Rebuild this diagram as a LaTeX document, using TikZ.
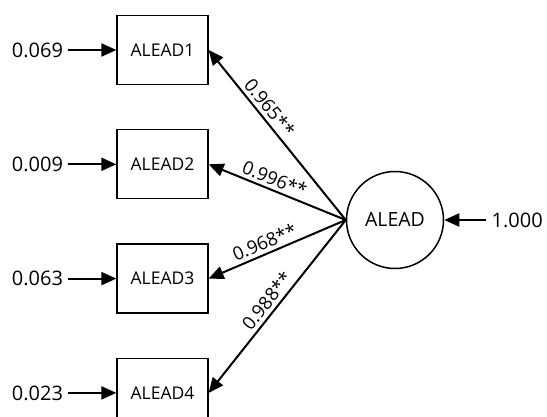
\documentclass[tikz,border=0pt]{standalone}
\usepackage{fontspec}
\setmainfont{Open Sans}
\usetikzlibrary{positioning,arrows.meta}

\begin{document}
\begin{tikzpicture}[
        x=1pt, y=-1pt,
        thick,
        >={Triangle[length=15pt,width=13pt]},
        indbox/.style={draw=black, line width=1.3pt, minimum width=91pt, minimum height=69pt, font=\fontsize{17.5}{20}\selectfont},
        errlab/.style={inner sep=5pt, font=\fontsize{20}{24}\selectfont},
        loadlab/.style={sloped, above, inner sep=3.5pt, font=\fontsize{18.5}{22}\selectfont}]
        \useasboundingbox (0,0) rectangle (547,417);
        % NODES
        % indicator boxes
        \node[indbox] (A1) at (162.5,50) {ALEAD1};
        \node[indbox, below=44pt of A1] (A2) {ALEAD2};
        \node[indbox, below=44pt of A2] (A3) {ALEAD3};
        \node[indbox, below=44pt of A3] (A4) {ALEAD4};
        % latent variable
        \node[draw=black, circle, line width=1.5pt, minimum size=97pt, font=\fontsize{19.5}{22}\selectfont] (LV) at (395,220) {ALEAD};
        % error terms
        \node[errlab, left=48pt of A1] (e1) {0.069};
        \node[errlab, left=48pt of A2] (e2) {0.009};
        \node[errlab, left=48pt of A3] (e3) {0.063};
        \node[errlab, left=48pt of A4] (e4) {0.023};
        \node[errlab, right=42pt of LV] (eLV) {1.000};

        % ARROWS
        \draw[->, line width=2pt] (e1)--(A1);
        \draw[->, line width=2pt] (e2)--(A2);
        \draw[->, line width=2pt] (e3)--(A3);
        \draw[->, line width=2pt] (e4)--(A4);
        \draw[->, line width=2pt] (eLV)--(LV);
        \draw[->, line width=2pt] (LV.west)--(A1.east) node[loadlab, pos=0.62] {0.965**};
        \draw[->, line width=2pt] (LV.west)--(A2.east) node[loadlab, pos=0.55] {0.996**};
        \draw[->, line width=2pt] (LV.west)--(A3.east) node[loadlab, pos=0.56] {0.968**};
        \draw[->, line width=2pt] (LV.west)--(A4.east) node[loadlab, pos=0.51] {0.988**};
    \end{tikzpicture}
\end{document}
